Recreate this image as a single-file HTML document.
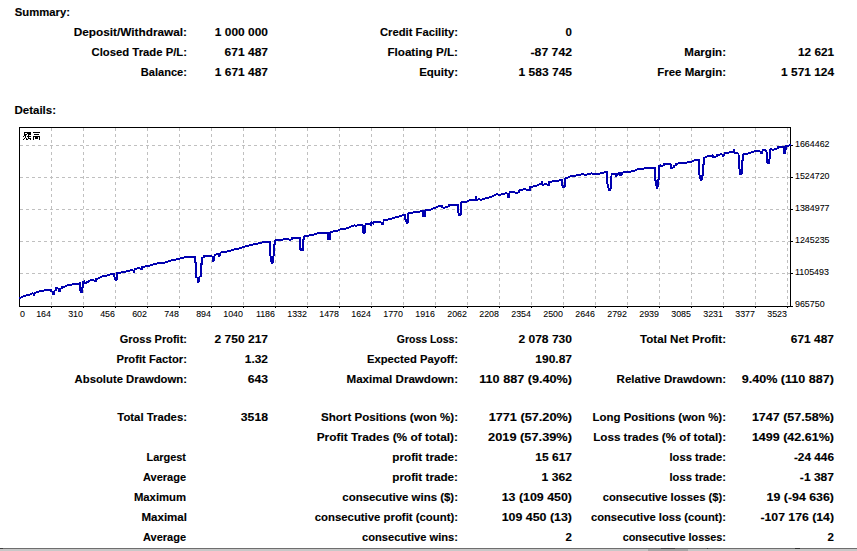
<!DOCTYPE html>
<html><head><meta charset="utf-8"><style>
html,body{margin:0;padding:0;background:#fff;width:857px;height:551px;overflow:hidden}
svg{display:block}
.t{font-family:"Liberation Sans",sans-serif;font-weight:bold;font-size:11.5px;fill:#000;stroke:#000;stroke-width:0.12px}
.e{text-anchor:end}
.ax{font-family:"Liberation Sans",sans-serif;font-size:9.5px;fill:#000;stroke:#000;stroke-width:0.08px}
</style></head><body>
<svg width="857" height="551" viewBox="0 0 857 551">
<text transform="translate(187.03 36) scale(1.0275 1)" class="t e">Deposit/Withdrawal:</text>
<text transform="translate(268.00 36) scale(1.0392 1)" class="t e">1 000 000</text>
<text transform="translate(457.98 36) scale(0.9772 1)" class="t e">Credit Facility:</text>
<text transform="translate(572.00 36) scale(1.0000 1)" class="t e">0</text>
<text transform="translate(186.98 56) scale(0.9833 1)" class="t e">Closed Trade P/L:</text>
<text transform="translate(268.00 56) scale(1.0463 1)" class="t e">671 487</text>
<text transform="translate(458.01 56) scale(1.0147 1)" class="t e">Floating P/L:</text>
<text transform="translate(572.00 56) scale(1.0641 1)" class="t e">-87 742</text>
<text transform="translate(726.00 56) scale(1.0050 1)" class="t e">Margin:</text>
<text transform="translate(834.00 56) scale(1.0229 1)" class="t e">12 621</text>
<text transform="translate(186.97 76) scale(0.9652 1)" class="t e">Balance:</text>
<text transform="translate(268.00 76) scale(1.0392 1)" class="t e">1 671 487</text>
<text transform="translate(458.00 76) scale(0.9973 1)" class="t e">Equity:</text>
<text transform="translate(572.00 76) scale(1.0451 1)" class="t e">1 583 745</text>
<text transform="translate(726.00 76) scale(0.9970 1)" class="t e">Free Margin:</text>
<text transform="translate(834.00 76) scale(1.0353 1)" class="t e">1 571 124</text>
<text transform="translate(186.96 343) scale(0.9565 1)" class="t e">Gross Profit:</text>
<text transform="translate(268.00 343) scale(1.0451 1)" class="t e">2 750 217</text>
<text transform="translate(457.91 343) scale(0.9121 1)" class="t e">Gross Loss:</text>
<text transform="translate(572.00 343) scale(1.0490 1)" class="t e">2 078 730</text>
<text transform="translate(726.01 343) scale(1.0071 1)" class="t e">Total Net Profit:</text>
<text transform="translate(834.00 343) scale(1.0390 1)" class="t e">671 487</text>
<text transform="translate(186.98 363) scale(0.9775 1)" class="t e">Profit Factor:</text>
<text transform="translate(268.00 363) scale(1.0364 1)" class="t e">1.32</text>
<text transform="translate(457.98 363) scale(0.9761 1)" class="t e">Expected Payoff:</text>
<text transform="translate(572.00 363) scale(1.0429 1)" class="t e">190.87</text>
<text transform="translate(186.98 383) scale(0.9841 1)" class="t e">Absolute Drawdown:</text>
<text transform="translate(268.00 383) scale(1.0579 1)" class="t e">643</text>
<text transform="translate(458.01 383) scale(1.0092 1)" class="t e">Maximal Drawdown:</text>
<text transform="translate(572.00 383) scale(1.1000 1)" class="t e">110 887 (9.40%)</text>
<text transform="translate(726.00 383) scale(1.0019 1)" class="t e">Relative Drawdown:</text>
<text transform="translate(834.00 383) scale(1.0940 1)" class="t e">9.40% (110 887)</text>
<text transform="translate(186.99 421) scale(0.9871 1)" class="t e">Total Trades:</text>
<text transform="translate(268.00 421) scale(1.0640 1)" class="t e">3518</text>
<text transform="translate(458.01 421) scale(1.0081 1)" class="t e">Short Positions (won %):</text>
<text transform="translate(572.00 421) scale(1.1067 1)" class="t e">1771 (57.20%)</text>
<text transform="translate(726.00 421) scale(0.9955 1)" class="t e">Long Positions (won %):</text>
<text transform="translate(834.00 421) scale(1.0893 1)" class="t e">1747 (57.58%)</text>
<text transform="translate(458.04 441) scale(1.0356 1)" class="t e">Profit Trades (% of total):</text>
<text transform="translate(572.00 441) scale(1.1133 1)" class="t e">2019 (57.39%)</text>
<text transform="translate(726.02 441) scale(1.0155 1)" class="t e">Loss trades (% of total):</text>
<text transform="translate(834.00 441) scale(1.0893 1)" class="t e">1499 (42.61%)</text>
<text transform="translate(186.00 461) scale(0.9512 1)" class="t e">Largest</text>
<text transform="translate(458.02 461) scale(1.0190 1)" class="t e">profit trade:</text>
<text transform="translate(572.00 461) scale(1.0429 1)" class="t e">15 617</text>
<text transform="translate(725.97 461) scale(0.9719 1)" class="t e">loss trade:</text>
<text transform="translate(834.00 461) scale(1.0282 1)" class="t e">-24 446</text>
<text transform="translate(186.00 481) scale(0.9578 1)" class="t e">Average</text>
<text transform="translate(458.02 481) scale(1.0190 1)" class="t e">profit trade:</text>
<text transform="translate(572.00 481) scale(1.0571 1)" class="t e">1 362</text>
<text transform="translate(725.97 481) scale(0.9719 1)" class="t e">loss trade:</text>
<text transform="translate(834.00 481) scale(1.0469 1)" class="t e">-1 387</text>
<text transform="translate(186.00 501) scale(0.9827 1)" class="t e">Maximum</text>
<text transform="translate(457.99 501) scale(0.9948 1)" class="t e">consecutive wins ($):</text>
<text transform="translate(572.00 501) scale(1.0800 1)" class="t e">13 (109 450)</text>
<text transform="translate(725.98 501) scale(0.9752 1)" class="t e">consecutive losses ($):</text>
<text transform="translate(834.00 501) scale(1.0758 1)" class="t e">19 (-94 636)</text>
<text transform="translate(187.01 521) scale(1.0068 1)" class="t e">Maximal</text>
<text transform="translate(457.99 521) scale(0.9889 1)" class="t e">consecutive profit (count):</text>
<text transform="translate(572.00 521) scale(1.0800 1)" class="t e">109 450 (13)</text>
<text transform="translate(725.98 521) scale(0.9752 1)" class="t e">consecutive loss (count):</text>
<text transform="translate(834.00 521) scale(1.0667 1)" class="t e">-107 176 (14)</text>
<text transform="translate(186.00 541) scale(0.9578 1)" class="t e">Average</text>
<text transform="translate(457.97 541) scale(0.9694 1)" class="t e">consecutive wins:</text>
<text transform="translate(572.00 541) scale(1.0000 1)" class="t e">2</text>
<text transform="translate(725.95 541) scale(0.9454 1)" class="t e">consecutive losses:</text>
<text transform="translate(834.00 541) scale(1.0000 1)" class="t e">2</text>
<text transform="translate(69.98 16) scale(0.9818 1)" class="t e">Summary:</text>
<text transform="translate(56.00 114) scale(1.0000 1)" class="t e">Details:</text>
<path d="M51.5 128V306 M83.5 128V306 M115.5 128V306 M147.5 128V306 M179.5 128V306 M211.5 128V306 M243.5 128V306 M275.5 128V306 M307.5 128V306 M339.5 128V306 M371.5 128V306 M403.5 128V306 M435.5 128V306 M467.5 128V306 M499.5 128V306 M531.5 128V306 M563.5 128V306 M595.5 128V306 M627.5 128V306 M659.5 128V306 M691.5 128V306 M723.5 128V306 M755.5 128V306 M787.5 128V306 M20 145.5H790 M20 177.5H790 M20 209.5H790 M20 241.5H790 M20 273.5H790" stroke="#c0c0c0" stroke-width="1" stroke-dasharray="3 3" fill="none" shape-rendering="crispEdges"/>
<rect x="19.5" y="127.5" width="771" height="179" fill="none" stroke="#000" stroke-width="1" shape-rendering="crispEdges"/>
<path d="M51.5 306v2 M83.5 306v2 M115.5 306v2 M147.5 306v2 M179.5 306v2 M211.5 306v2 M243.5 306v2 M275.5 306v2 M307.5 306v2 M339.5 306v2 M371.5 306v2 M403.5 306v2 M435.5 306v2 M467.5 306v2 M499.5 306v2 M531.5 306v2 M563.5 306v2 M595.5 306v2 M627.5 306v2 M659.5 306v2 M691.5 306v2 M723.5 306v2 M755.5 306v2 M787.5 306v2 M790 145.5h3 M790 177.5h3 M790 209.5h3 M790 241.5h3 M790 273.5h3 M790 306.5h3" stroke="#000" stroke-width="1" fill="none" shape-rendering="crispEdges"/>
<text transform="translate(20 317) scale(0.935 1)" class="ax">0</text>
<text transform="translate(51 317) scale(0.935 1)" class="ax" text-anchor="end">164</text>
<text transform="translate(83 317) scale(0.935 1)" class="ax" text-anchor="end">310</text>
<text transform="translate(115 317) scale(0.935 1)" class="ax" text-anchor="end">456</text>
<text transform="translate(147 317) scale(0.935 1)" class="ax" text-anchor="end">602</text>
<text transform="translate(179 317) scale(0.935 1)" class="ax" text-anchor="end">748</text>
<text transform="translate(211 317) scale(0.935 1)" class="ax" text-anchor="end">894</text>
<text transform="translate(243 317) scale(0.935 1)" class="ax" text-anchor="end">1040</text>
<text transform="translate(275 317) scale(0.935 1)" class="ax" text-anchor="end">1186</text>
<text transform="translate(307 317) scale(0.935 1)" class="ax" text-anchor="end">1332</text>
<text transform="translate(339 317) scale(0.935 1)" class="ax" text-anchor="end">1478</text>
<text transform="translate(371 317) scale(0.935 1)" class="ax" text-anchor="end">1624</text>
<text transform="translate(403 317) scale(0.935 1)" class="ax" text-anchor="end">1770</text>
<text transform="translate(435 317) scale(0.935 1)" class="ax" text-anchor="end">1916</text>
<text transform="translate(467 317) scale(0.935 1)" class="ax" text-anchor="end">2062</text>
<text transform="translate(499 317) scale(0.935 1)" class="ax" text-anchor="end">2208</text>
<text transform="translate(531 317) scale(0.935 1)" class="ax" text-anchor="end">2354</text>
<text transform="translate(563 317) scale(0.935 1)" class="ax" text-anchor="end">2500</text>
<text transform="translate(595 317) scale(0.935 1)" class="ax" text-anchor="end">2646</text>
<text transform="translate(627 317) scale(0.935 1)" class="ax" text-anchor="end">2792</text>
<text transform="translate(659 317) scale(0.935 1)" class="ax" text-anchor="end">2939</text>
<text transform="translate(691 317) scale(0.935 1)" class="ax" text-anchor="end">3085</text>
<text transform="translate(723 317) scale(0.935 1)" class="ax" text-anchor="end">3231</text>
<text transform="translate(755 317) scale(0.935 1)" class="ax" text-anchor="end">3377</text>
<text transform="translate(787 317) scale(0.935 1)" class="ax" text-anchor="end">3523</text>
<text transform="translate(795 147) scale(0.935 1)" class="ax">1664462</text>
<text transform="translate(795 179) scale(0.935 1)" class="ax">1524720</text>
<text transform="translate(795 211) scale(0.935 1)" class="ax">1384977</text>
<text transform="translate(795 243) scale(0.935 1)" class="ax">1245235</text>
<text transform="translate(795 275) scale(0.935 1)" class="ax">1105493</text>
<text transform="translate(795 307) scale(0.935 1)" class="ax">965750</text>
<path d="M24 132h1v1h-1z M25 132h1v1h-1z M26 132h1v1h-1z M27 132h1v1h-1z M28 132h1v1h-1z M29 132h1v1h-1z M30 132h1v1h-1z M33 132h1v1h-1z M34 132h1v1h-1z M35 132h1v1h-1z M36 132h1v1h-1z M37 132h1v1h-1z M38 132h1v1h-1z M39 132h1v1h-1z M24 133h1v1h-1z M27 133h1v1h-1z M28 133h1v1h-1z M29 133h1v1h-1z M30 133h1v1h-1z M24 134h1v1h-1z M25 134h1v1h-1z M26 134h1v1h-1z M28 134h1v1h-1z M29 134h1v1h-1z M30 134h1v1h-1z M34 134h1v1h-1z M35 134h1v1h-1z M36 134h1v1h-1z M37 134h1v1h-1z M38 134h1v1h-1z M24 135h1v1h-1z M25 135h1v1h-1z M28 135h1v1h-1z M23 136h1v1h-1z M25 136h1v1h-1z M27 136h1v1h-1z M28 136h1v1h-1z M29 136h1v1h-1z M30 136h1v1h-1z M33 136h1v1h-1z M34 136h1v1h-1z M35 136h1v1h-1z M36 136h1v1h-1z M37 136h1v1h-1z M38 136h1v1h-1z M39 136h1v1h-1z M25 137h1v1h-1z M28 137h1v1h-1z M33 137h1v1h-1z M35 137h1v1h-1z M36 137h1v1h-1z M37 137h1v1h-1z M39 137h1v1h-1z M24 138h1v1h-1z M26 138h1v1h-1z M28 138h1v1h-1z M29 138h1v1h-1z M30 138h1v1h-1z M33 138h1v1h-1z M35 138h1v1h-1z M36 138h1v1h-1z M37 138h1v1h-1z M39 138h1v1h-1z M23 139h1v1h-1z M26 139h1v1h-1z M27 139h1v1h-1z M30 139h1v1h-1z M33 139h1v1h-1z M39 139h1v1h-1z" fill="#000"/>
<path d="M19 297h1v2h-1zM20 297h1v2h-1zM21 296h1v2h-1zM22 296h1v2h-1zM23 295h1v2h-1zM24 295h1v2h-1zM25 295h1v2h-1zM26 294h1v2h-1zM27 294h1v2h-1zM28 294h1v2h-1zM29 294h1v2h-1zM30 293h1v2h-1zM31 293h1v2h-1zM32 292h1v2h-1zM33 293h1v3h-1zM34 292h1v4h-1zM35 292h1v2h-1zM36 291h1v2h-1zM37 291h1v2h-1zM38 291h1v2h-1zM39 290h1v2h-1zM40 290h1v2h-1zM41 290h1v2h-1zM42 290h1v2h-1zM43 290h1v2h-1zM44 289h1v2h-1zM45 289h1v2h-1zM46 289h1v2h-1zM47 289h1v2h-1zM48 289h1v2h-1zM49 289h1v2h-1zM50 289h1v3h-1zM51 289h1v3h-1zM52 291h1v4h-1zM53 291h1v4h-1zM54 290h1v5h-1zM55 287h1v4h-1zM56 287h1v4h-1zM57 287h1v2h-1zM58 288h1v4h-1zM59 288h1v4h-1zM60 288h1v4h-1zM61 286h1v3h-1zM62 286h1v3h-1zM63 286h1v2h-1zM64 286h1v2h-1zM65 285h1v2h-1zM66 285h1v2h-1zM67 284h1v2h-1zM68 284h1v2h-1zM69 284h1v2h-1zM70 284h1v2h-1zM71 284h1v2h-1zM72 283h1v2h-1zM73 283h1v2h-1zM74 283h1v2h-1zM75 283h1v2h-1zM76 283h1v2h-1zM77 283h1v2h-1zM78 283h1v2h-1zM79 282h1v9h-1zM80 282h1v11h-1zM81 287h1v6h-1zM82 281h1v12h-1zM83 281h1v7h-1zM84 280h1v4h-1zM85 282h1v2h-1zM86 281h1v3h-1zM87 281h1v2h-1zM88 280h1v3h-1zM89 280h1v2h-1zM90 279h1v2h-1zM91 279h1v2h-1zM92 279h1v2h-1zM93 279h1v2h-1zM94 280h1v2h-1zM95 278h1v4h-1zM96 278h1v4h-1zM97 278h1v2h-1zM98 277h1v2h-1zM99 277h1v2h-1zM100 276h1v2h-1zM101 276h1v2h-1zM102 275h1v2h-1zM103 275h1v2h-1zM104 275h1v2h-1zM105 275h1v2h-1zM106 275h1v2h-1zM107 274h1v2h-1zM108 274h1v2h-1zM109 274h1v2h-1zM110 273h1v2h-1zM111 273h1v2h-1zM112 273h1v2h-1zM113 273h1v4h-1zM114 273h1v7h-1zM115 277h1v4h-1zM116 272h1v9h-1zM117 272h1v8h-1zM118 272h1v2h-1zM119 272h1v2h-1zM120 272h1v2h-1zM121 271h1v2h-1zM122 271h1v2h-1zM123 271h1v2h-1zM124 271h1v2h-1zM125 271h1v2h-1zM126 270h1v2h-1zM127 270h1v2h-1zM128 270h1v2h-1zM129 270h1v2h-1zM130 269h1v2h-1zM131 269h1v2h-1zM132 269h1v2h-1zM133 270h1v3h-1zM134 268h1v5h-1zM135 268h1v2h-1zM136 268h1v2h-1zM137 267h1v2h-1zM138 267h1v2h-1zM139 267h1v2h-1zM140 268h1v2h-1zM141 266h1v4h-1zM142 266h1v4h-1zM143 266h1v2h-1zM144 266h1v2h-1zM145 265h1v2h-1zM146 265h1v2h-1zM147 265h1v2h-1zM148 265h1v2h-1zM149 265h1v2h-1zM150 264h1v2h-1zM151 264h1v2h-1zM152 264h1v2h-1zM153 263h1v2h-1zM154 263h1v2h-1zM155 263h1v2h-1zM156 263h1v2h-1zM157 262h1v2h-1zM158 262h1v2h-1zM159 262h1v2h-1zM160 262h1v2h-1zM161 262h1v2h-1zM162 262h1v2h-1zM163 262h1v2h-1zM164 262h1v2h-1zM165 261h1v2h-1zM166 261h1v2h-1zM167 261h1v2h-1zM168 260h1v2h-1zM169 260h1v2h-1zM170 260h1v2h-1zM171 259h1v2h-1zM172 259h1v2h-1zM173 259h1v2h-1zM174 259h1v2h-1zM175 259h1v2h-1zM176 258h1v2h-1zM177 258h1v2h-1zM178 258h1v2h-1zM179 258h1v2h-1zM180 257h1v2h-1zM181 257h1v2h-1zM182 257h1v2h-1zM183 257h1v2h-1zM184 256h1v2h-1zM185 256h1v2h-1zM186 256h1v2h-1zM187 256h1v2h-1zM188 256h1v2h-1zM189 256h1v2h-1zM190 256h1v2h-1zM191 256h1v2h-1zM192 256h1v2h-1zM193 256h1v2h-1zM194 256h1v7h-1zM195 256h1v22h-1zM196 262h1v16h-1zM197 277h1v6h-1zM198 277h1v6h-1zM199 276h1v6h-1zM200 263h1v14h-1zM201 257h1v20h-1zM202 257h1v8h-1zM203 255h1v3h-1zM204 255h1v3h-1zM205 255h1v2h-1zM206 255h1v2h-1zM207 255h1v2h-1zM208 255h1v2h-1zM209 255h1v2h-1zM210 255h1v2h-1zM211 255h1v2h-1zM212 256h1v6h-1zM213 256h1v6h-1zM214 254h1v7h-1zM215 254h1v2h-1zM216 253h1v2h-1zM217 253h1v2h-1zM218 253h1v4h-1zM219 253h1v4h-1zM220 252h1v4h-1zM221 251h1v2h-1zM222 251h1v2h-1zM223 251h1v2h-1zM224 251h1v2h-1zM225 251h1v2h-1zM226 251h1v2h-1zM227 250h1v2h-1zM228 250h1v2h-1zM229 250h1v2h-1zM230 250h1v2h-1zM231 249h1v2h-1zM232 249h1v2h-1zM233 249h1v2h-1zM234 248h1v2h-1zM235 248h1v2h-1zM236 248h1v2h-1zM237 248h1v2h-1zM238 248h1v2h-1zM239 247h1v2h-1zM240 247h1v2h-1zM241 247h1v2h-1zM242 246h1v2h-1zM243 246h1v2h-1zM244 246h1v2h-1zM245 245h1v2h-1zM246 245h1v2h-1zM247 245h1v2h-1zM248 245h1v2h-1zM249 244h1v2h-1zM250 244h1v2h-1zM251 244h1v2h-1zM252 244h1v2h-1zM253 243h1v2h-1zM254 243h1v2h-1zM255 243h1v2h-1zM256 243h1v2h-1zM257 243h1v2h-1zM258 242h1v2h-1zM259 242h1v2h-1zM260 242h1v2h-1zM261 242h1v2h-1zM262 241h1v2h-1zM263 241h1v2h-1zM264 241h1v2h-1zM265 241h1v2h-1zM266 241h1v2h-1zM267 241h1v2h-1zM268 241h1v2h-1zM269 241h1v15h-1zM270 241h1v21h-1zM271 256h1v8h-1zM272 256h1v8h-1zM273 244h1v19h-1zM274 240h1v16h-1zM275 239h1v6h-1zM276 239h1v2h-1zM277 239h1v2h-1zM278 239h1v2h-1zM279 239h1v2h-1zM280 239h1v2h-1zM281 239h1v2h-1zM282 239h1v2h-1zM283 238h1v2h-1zM284 238h1v2h-1zM285 238h1v2h-1zM286 238h1v2h-1zM287 238h1v2h-1zM288 238h1v2h-1zM289 239h1v2h-1zM290 239h1v2h-1zM291 237h1v3h-1zM292 237h1v3h-1zM293 237h1v2h-1zM294 237h1v2h-1zM295 237h1v2h-1zM296 237h1v2h-1zM297 237h1v2h-1zM298 237h1v2h-1zM299 237h1v13h-1zM300 237h1v14h-1zM301 248h1v3h-1zM302 239h1v12h-1zM303 236h1v15h-1zM304 235h1v5h-1zM305 235h1v2h-1zM306 235h1v2h-1zM307 235h1v2h-1zM308 235h1v2h-1zM309 234h1v2h-1zM310 234h1v2h-1zM311 234h1v2h-1zM312 234h1v2h-1zM313 234h1v2h-1zM314 233h1v2h-1zM315 233h1v2h-1zM316 233h1v2h-1zM317 232h1v2h-1zM318 232h1v2h-1zM319 232h1v2h-1zM320 232h1v2h-1zM321 232h1v2h-1zM322 232h1v2h-1zM323 232h1v2h-1zM324 232h1v2h-1zM325 232h1v2h-1zM326 232h1v2h-1zM327 232h1v8h-1zM328 232h1v8h-1zM329 232h1v8h-1zM330 231h1v9h-1zM331 231h1v2h-1zM332 231h1v2h-1zM333 230h1v2h-1zM334 230h1v2h-1zM335 230h1v2h-1zM336 230h1v2h-1zM337 230h1v2h-1zM338 229h1v2h-1zM339 229h1v2h-1zM340 228h1v2h-1zM341 228h1v2h-1zM342 228h1v2h-1zM343 228h1v2h-1zM344 228h1v2h-1zM345 228h1v2h-1zM346 227h1v2h-1zM347 227h1v2h-1zM348 227h1v2h-1zM349 226h1v2h-1zM350 226h1v2h-1zM351 225h1v2h-1zM352 225h1v2h-1zM353 225h1v2h-1zM354 224h1v2h-1zM355 225h1v2h-1zM356 225h1v2h-1zM357 224h1v2h-1zM358 224h1v2h-1zM359 224h1v2h-1zM360 224h1v2h-1zM361 224h1v2h-1zM362 224h1v9h-1zM363 225h1v9h-1zM364 225h1v9h-1zM365 223h1v10h-1zM366 223h1v2h-1zM367 223h1v2h-1zM368 223h1v2h-1zM369 223h1v2h-1zM370 222h1v4h-1zM371 221h1v5h-1zM372 222h1v2h-1zM373 221h1v4h-1zM374 221h1v2h-1zM375 221h1v2h-1zM376 221h1v2h-1zM377 221h1v2h-1zM378 221h1v2h-1zM379 221h1v2h-1zM380 221h1v2h-1zM381 222h1v3h-1zM382 222h1v3h-1zM383 219h1v6h-1zM384 219h1v2h-1zM385 219h1v2h-1zM386 219h1v2h-1zM387 219h1v2h-1zM388 218h1v2h-1zM389 218h1v2h-1zM390 218h1v2h-1zM391 218h1v2h-1zM392 217h1v2h-1zM393 217h1v2h-1zM394 217h1v2h-1zM395 216h1v2h-1zM396 216h1v2h-1zM397 216h1v2h-1zM398 216h1v2h-1zM399 215h1v2h-1zM400 215h1v2h-1zM401 215h1v2h-1zM402 214h1v2h-1zM403 214h1v2h-1zM404 214h1v6h-1zM405 214h1v8h-1zM406 219h1v5h-1zM407 213h1v11h-1zM408 212h1v11h-1zM409 212h1v2h-1zM410 212h1v2h-1zM411 212h1v2h-1zM412 212h1v2h-1zM413 211h1v2h-1zM414 211h1v2h-1zM415 211h1v2h-1zM416 211h1v2h-1zM417 211h1v2h-1zM418 211h1v2h-1zM419 211h1v2h-1zM420 210h1v2h-1zM421 210h1v2h-1zM422 210h1v7h-1zM423 210h1v7h-1zM424 210h1v7h-1zM425 209h1v8h-1zM426 209h1v2h-1zM427 209h1v2h-1zM428 209h1v2h-1zM429 209h1v2h-1zM430 209h1v2h-1zM431 208h1v2h-1zM432 208h1v2h-1zM433 207h1v2h-1zM434 207h1v2h-1zM435 207h1v2h-1zM436 206h1v2h-1zM437 206h1v2h-1zM438 205h1v2h-1zM439 205h1v2h-1zM440 205h1v2h-1zM441 205h1v3h-1zM442 205h1v3h-1zM443 207h1v2h-1zM444 207h1v2h-1zM445 206h1v2h-1zM446 206h1v2h-1zM447 206h1v2h-1zM448 204h1v3h-1zM449 204h1v3h-1zM450 204h1v2h-1zM451 204h1v2h-1zM452 204h1v2h-1zM453 204h1v2h-1zM454 204h1v2h-1zM455 204h1v2h-1zM456 204h1v2h-1zM457 204h1v9h-1zM458 204h1v12h-1zM459 213h1v3h-1zM460 202h1v14h-1zM461 201h1v14h-1zM462 201h1v2h-1zM463 201h1v2h-1zM464 201h1v2h-1zM465 201h1v2h-1zM466 201h1v2h-1zM467 200h1v2h-1zM468 200h1v2h-1zM469 199h1v2h-1zM470 199h1v2h-1zM471 199h1v2h-1zM472 199h1v2h-1zM473 199h1v2h-1zM474 199h1v2h-1zM475 196h1v5h-1zM476 196h1v5h-1zM477 199h1v2h-1zM478 198h1v2h-1zM479 198h1v2h-1zM480 199h1v2h-1zM481 199h1v2h-1zM482 198h1v2h-1zM483 198h1v2h-1zM484 198h1v2h-1zM485 197h1v2h-1zM486 197h1v2h-1zM487 197h1v2h-1zM488 197h1v2h-1zM489 196h1v2h-1zM490 196h1v2h-1zM491 196h1v2h-1zM492 195h1v2h-1zM493 195h1v2h-1zM494 194h1v2h-1zM495 194h1v2h-1zM496 193h1v2h-1zM497 193h1v2h-1zM498 194h1v2h-1zM499 194h1v2h-1zM500 194h1v2h-1zM501 193h1v2h-1zM502 193h1v2h-1zM503 193h1v2h-1zM504 193h1v2h-1zM505 192h1v2h-1zM506 192h1v2h-1zM507 193h1v5h-1zM508 193h1v5h-1zM509 191h1v7h-1zM510 191h1v2h-1zM511 191h1v2h-1zM512 191h1v2h-1zM513 191h1v2h-1zM514 191h1v2h-1zM515 192h1v2h-1zM516 192h1v2h-1zM517 192h1v2h-1zM518 190h1v3h-1zM519 189h1v4h-1zM520 189h1v2h-1zM521 189h1v2h-1zM522 189h1v2h-1zM523 188h1v2h-1zM524 188h1v2h-1zM525 188h1v2h-1zM526 189h1v2h-1zM527 189h1v2h-1zM528 189h1v2h-1zM529 186h1v5h-1zM530 186h1v5h-1zM531 186h1v2h-1zM532 186h1v2h-1zM533 185h1v2h-1zM534 185h1v2h-1zM535 185h1v2h-1zM536 185h1v2h-1zM537 184h1v2h-1zM538 184h1v2h-1zM539 183h1v2h-1zM540 183h1v2h-1zM541 181h1v4h-1zM542 181h1v5h-1zM543 184h1v2h-1zM544 183h1v2h-1zM545 183h1v2h-1zM546 183h1v2h-1zM547 184h1v2h-1zM548 181h1v5h-1zM549 181h1v5h-1zM550 181h1v2h-1zM551 181h1v2h-1zM552 180h1v2h-1zM553 180h1v2h-1zM554 180h1v2h-1zM555 180h1v2h-1zM556 180h1v2h-1zM557 180h1v2h-1zM558 180h1v2h-1zM559 179h1v2h-1zM560 179h1v2h-1zM561 179h1v7h-1zM562 179h1v9h-1zM563 185h1v3h-1zM564 178h1v10h-1zM565 177h1v10h-1zM566 177h1v2h-1zM567 177h1v2h-1zM568 176h1v2h-1zM569 176h1v2h-1zM570 175h1v2h-1zM571 175h1v2h-1zM572 175h1v2h-1zM573 175h1v2h-1zM574 175h1v2h-1zM575 175h1v2h-1zM576 174h1v2h-1zM577 174h1v2h-1zM578 174h1v2h-1zM579 174h1v2h-1zM580 174h1v2h-1zM581 173h1v2h-1zM582 173h1v2h-1zM583 173h1v2h-1zM584 174h1v2h-1zM585 174h1v2h-1zM586 174h1v2h-1zM587 173h1v2h-1zM588 173h1v2h-1zM589 173h1v2h-1zM590 173h1v2h-1zM591 172h1v2h-1zM592 173h1v2h-1zM593 173h1v2h-1zM594 173h1v2h-1zM595 173h1v2h-1zM596 173h1v2h-1zM597 173h1v2h-1zM598 173h1v2h-1zM599 173h1v2h-1zM600 172h1v2h-1zM601 172h1v2h-1zM602 172h1v2h-1zM603 172h1v2h-1zM604 171h1v2h-1zM605 171h1v2h-1zM606 171h1v13h-1zM607 171h1v17h-1zM608 184h1v7h-1zM609 188h1v3h-1zM610 176h1v15h-1zM611 173h1v16h-1zM612 173h1v2h-1zM613 173h1v2h-1zM614 173h1v2h-1zM615 173h1v4h-1zM616 173h1v4h-1zM617 173h1v3h-1zM618 172h1v3h-1zM619 172h1v4h-1zM620 172h1v4h-1zM621 172h1v4h-1zM622 172h1v3h-1zM623 171h1v2h-1zM624 171h1v2h-1zM625 171h1v2h-1zM626 171h1v2h-1zM627 171h1v2h-1zM628 171h1v2h-1zM629 171h1v2h-1zM630 171h1v2h-1zM631 170h1v2h-1zM632 170h1v2h-1zM633 170h1v2h-1zM634 170h1v2h-1zM635 169h1v2h-1zM636 169h1v2h-1zM637 168h1v2h-1zM638 168h1v2h-1zM639 168h1v2h-1zM640 168h1v2h-1zM641 168h1v2h-1zM642 168h1v2h-1zM643 168h1v2h-1zM644 167h1v2h-1zM645 167h1v2h-1zM646 167h1v2h-1zM647 167h1v2h-1zM648 167h1v2h-1zM649 167h1v2h-1zM650 167h1v2h-1zM651 167h1v2h-1zM652 167h1v2h-1zM653 167h1v2h-1zM654 167h1v14h-1zM655 167h1v19h-1zM656 180h1v9h-1zM657 179h1v10h-1zM658 165h1v22h-1zM659 165h1v15h-1zM660 164h1v3h-1zM661 165h1v2h-1zM662 165h1v2h-1zM663 163h1v3h-1zM664 163h1v3h-1zM665 163h1v2h-1zM666 163h1v2h-1zM667 163h1v2h-1zM668 163h1v2h-1zM669 163h1v2h-1zM670 163h1v6h-1zM671 164h1v5h-1zM672 167h1v2h-1zM673 165h1v3h-1zM674 165h1v3h-1zM675 163h1v3h-1zM676 163h1v3h-1zM677 163h1v2h-1zM678 162h1v2h-1zM679 162h1v2h-1zM680 162h1v2h-1zM681 162h1v2h-1zM682 162h1v2h-1zM683 162h1v2h-1zM684 162h1v2h-1zM685 162h1v2h-1zM686 162h1v2h-1zM687 161h1v2h-1zM688 161h1v2h-1zM689 161h1v2h-1zM690 161h1v2h-1zM691 161h1v2h-1zM692 160h1v2h-1zM693 160h1v2h-1zM694 159h1v2h-1zM695 159h1v2h-1zM696 159h1v2h-1zM697 159h1v2h-1zM698 159h1v16h-1zM699 159h1v20h-1zM700 175h1v6h-1zM701 175h1v6h-1zM702 164h1v16h-1zM703 157h1v19h-1zM704 157h1v8h-1zM705 156h1v2h-1zM706 156h1v2h-1zM707 155h1v2h-1zM708 155h1v2h-1zM709 155h1v2h-1zM710 155h1v2h-1zM711 155h1v2h-1zM712 154h1v4h-1zM713 155h1v3h-1zM714 156h1v2h-1zM715 156h1v2h-1zM716 154h1v3h-1zM717 154h1v3h-1zM718 154h1v2h-1zM719 154h1v2h-1zM720 153h1v2h-1zM721 153h1v2h-1zM722 154h1v3h-1zM723 154h1v3h-1zM724 152h1v4h-1zM725 152h1v2h-1zM726 152h1v2h-1zM727 152h1v2h-1zM728 152h1v2h-1zM729 151h1v2h-1zM730 151h1v2h-1zM731 151h1v2h-1zM732 151h1v2h-1zM733 149h1v4h-1zM734 149h1v5h-1zM735 152h1v2h-1zM736 152h1v2h-1zM737 152h1v2h-1zM738 153h1v16h-1zM739 155h1v20h-1zM740 169h1v6h-1zM741 160h1v15h-1zM742 154h1v20h-1zM743 153h1v8h-1zM744 153h1v2h-1zM745 153h1v2h-1zM746 153h1v2h-1zM747 153h1v2h-1zM748 152h1v2h-1zM749 152h1v2h-1zM750 152h1v2h-1zM751 151h1v2h-1zM752 151h1v2h-1zM753 151h1v2h-1zM754 150h1v2h-1zM755 150h1v2h-1zM756 150h1v2h-1zM757 150h1v2h-1zM758 150h1v2h-1zM759 150h1v2h-1zM760 151h1v3h-1zM761 151h1v3h-1zM762 149h1v5h-1zM763 149h1v2h-1zM764 149h1v2h-1zM765 149h1v3h-1zM766 150h1v13h-1zM767 152h1v12h-1zM768 159h1v5h-1zM769 149h1v15h-1zM770 148h1v11h-1zM771 148h1v2h-1zM772 149h1v2h-1zM773 149h1v2h-1zM774 148h1v2h-1zM775 148h1v2h-1zM776 148h1v2h-1zM777 146h1v3h-1zM778 146h1v3h-1zM779 146h1v2h-1zM780 146h1v2h-1zM781 146h1v2h-1zM782 146h1v2h-1zM783 146h1v8h-1zM784 146h1v8h-1zM785 145h1v9h-1zM786 145h1v5h-1zM787 145h1v2h-1zM788 145h1v2h-1zM789 144h1v2h-1zM790 144h1v2h-1z" fill="#0000b0" shape-rendering="crispEdges"/>
<rect x="0" y="548" width="857" height="1" fill="#6e6e6e"/>
<rect x="0" y="549" width="857" height="2" fill="#c8c8c8"/>
<rect x="648" y="549" width="40" height="2" fill="#a8a8a8"/>
<rect x="661" y="548" width="14" height="1" fill="#404040"/>
<rect x="0" y="548" width="3" height="1" fill="#404040"/>
<rect x="707" y="548" width="1" height="1" fill="#303030"/>
<rect x="795" y="548" width="5" height="1" fill="#303030"/>
</svg>
</body></html>
